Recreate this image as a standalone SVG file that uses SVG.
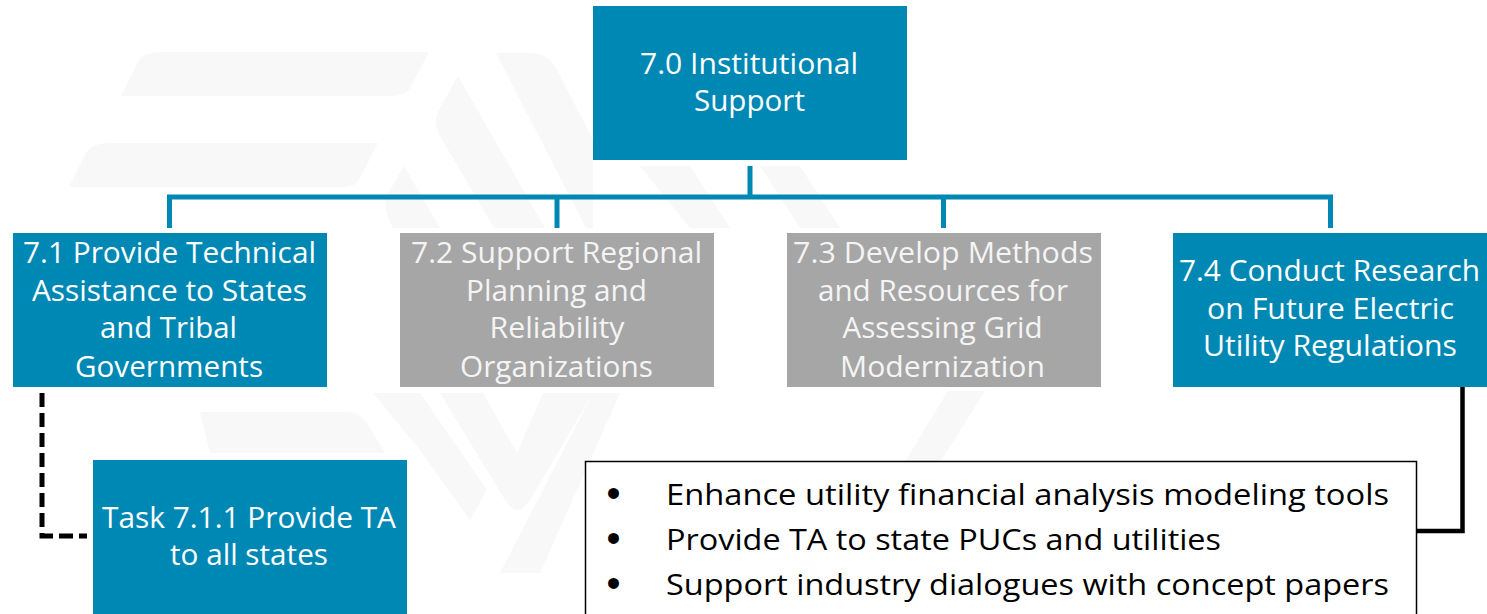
<svg xmlns="http://www.w3.org/2000/svg" width="1487" height="614" viewBox="0 0 1487 614">
<style>
.wm{fill:#f8f8f8}
.blue{fill:#0088b5}
.gray{fill:#a6a6a6}
.t{font-family:"Open Sans","Noto Sans","Liberation Sans",sans-serif;font-size:30px;fill:#ffffff;text-anchor:middle}
.tg{fill:#f4f4f4}
.b{font-family:"Open Sans","Noto Sans","Liberation Sans",sans-serif;font-size:30px;fill:#000000}
.bul{font-family:"Liberation Sans","DejaVu Sans",sans-serif;font-size:40px;fill:#000000;text-anchor:middle}
.conn{fill:none;stroke:#0088b5;stroke-width:5}
</style>
<rect width="1487" height="614" fill="#ffffff"/>
<g id="watermark">
<path class="wm" d="M160,52 L429,52 L410,88 Q404,96 392,96 L121,96 L138,62 Q144,52 160,52 Z"/>
<path class="wm" d="M125,143 L378,143 L359,180 Q355,187 343,187 L69,187 L86,153 Q92,143 110,143 Z"/>
<path class="wm" d="M458,76 L545,228 L494,228 L440,136 Q432,122 440,108 Z"/>
<path class="wm" d="M496,53 L530,53 Q548,53 556,68 L593,140 L593,228 L586,228 Z"/>
<path class="wm" d="M404,166 L440,228 L393,228 Q380,205 390,190 Z"/>
<path class="wm" d="M373,393 L420,393 L487,490 L470,520 L420,450 Z"/>
<path class="wm" d="M483,393 L517,453 L543,393 L593,393 L530,500 Q517,520 505,500 L440,393 Z"/>
<path class="wm" d="M593,393 L620,393 L540,573 L500,573 Z"/>
<path class="wm" d="M200,412 L345,412 Q360,412 368,425 L385,453 L210,453 Z"/>
<path class="wm" d="M948,391 L985,391 L935,470 L900,470 Z"/>
<path class="wm" d="M640,166 L690,166 L730,228 L690,228 Z"/>
<path class="wm" d="M760,166 L800,166 L840,228 L800,228 Z"/>
</g>
<g id="connectors">
<line class="conn" x1="750" y1="166" x2="750" y2="197"/>
<polyline class="conn" points="169.5,228 169.5,197 1330.5,197 1330.5,228"/>
<line class="conn" x1="557" y1="197" x2="557" y2="228"/>
<line class="conn" x1="943.5" y1="197" x2="943.5" y2="228"/>
<polyline points="42,393 42,536 87,536" fill="none" stroke="#000000" stroke-width="5" stroke-dasharray="14 6"/>
<polyline points="1462.5,387 1462.5,531 1417,531" fill="none" stroke="#000000" stroke-width="4.5"/>
</g>
<g id="node-7-0">
<rect class="blue" x="593" y="6" width="314" height="154"/>
<text class="t" x="749" y="73.5" textLength="218" lengthAdjust="spacingAndGlyphs">7.0 Institutional</text>
<text class="t" x="749.5" y="110.5" textLength="111" lengthAdjust="spacingAndGlyphs">Support</text>
</g>
<g id="node-7-1">
<rect class="blue" x="13" y="233" width="314" height="154"/>
<text class="t" x="169.5" y="263" textLength="293" lengthAdjust="spacingAndGlyphs">7.1 Provide Technical</text>
<text class="t" x="169.5" y="300.7" textLength="275" lengthAdjust="spacingAndGlyphs">Assistance to States</text>
<text class="t" x="168.5" y="338.4" textLength="137" lengthAdjust="spacingAndGlyphs">and Tribal</text>
<text class="t" x="169" y="376.5" textLength="188" lengthAdjust="spacingAndGlyphs">Governments</text>
</g>
<g id="node-7-2">
<rect x="398" y="231" width="318" height="158" fill="#ffffff"/>
<rect class="gray" x="400" y="233" width="314" height="154"/>
<text class="t tg" x="556.5" y="263" textLength="291" lengthAdjust="spacingAndGlyphs">7.2 Support Regional</text>
<text class="t tg" x="556.5" y="300.7" textLength="181" lengthAdjust="spacingAndGlyphs">Planning and</text>
<text class="t tg" x="557" y="338.4" textLength="135" lengthAdjust="spacingAndGlyphs">Reliability</text>
<text class="t tg" x="556.5" y="376.5" textLength="193" lengthAdjust="spacingAndGlyphs">Organizations</text>
</g>
<g id="node-7-3">
<rect x="785" y="231" width="318" height="158" fill="#ffffff"/>
<rect class="gray" x="787" y="233" width="314" height="154"/>
<text class="t tg" x="943" y="263" textLength="300" lengthAdjust="spacingAndGlyphs">7.3 Develop Methods</text>
<text class="t tg" x="943" y="300.7" textLength="250" lengthAdjust="spacingAndGlyphs">and Resources for</text>
<text class="t tg" x="942.5" y="338.4" textLength="200" lengthAdjust="spacingAndGlyphs">Assessing Grid</text>
<text class="t tg" x="942.5" y="376.5" textLength="205" lengthAdjust="spacingAndGlyphs">Modernization</text>
</g>
<g id="node-7-4">
<rect class="blue" x="1173" y="233" width="314" height="154"/>
<text class="t" x="1329.5" y="281" textLength="301" lengthAdjust="spacingAndGlyphs">7.4 Conduct Research</text>
<text class="t" x="1330.5" y="318.5" textLength="247" lengthAdjust="spacingAndGlyphs">on Future Electric</text>
<text class="t" x="1330" y="356.2" textLength="254" lengthAdjust="spacingAndGlyphs">Utility Regulations</text>
</g>
<g id="node-7-1-1">
<rect class="blue" x="93" y="460" width="314" height="160"/>
<text class="t" x="249" y="527.7" textLength="294" lengthAdjust="spacingAndGlyphs">Task 7.1.1 Provide TA</text>
<text class="t" x="249" y="565" textLength="158" lengthAdjust="spacingAndGlyphs">to all states</text>
</g>
<g id="node-7-4-details">
<rect x="585.5" y="461.5" width="831" height="170" fill="#ffffff" stroke="#000000" stroke-width="1.5"/>
<text class="bul" x="613.5" y="507">•</text>
<text class="b" x="666" y="505" textLength="723" lengthAdjust="spacingAndGlyphs">Enhance utility financial analysis modeling tools</text>
<text class="bul" x="613.5" y="552">•</text>
<text class="b" x="666" y="550" textLength="555" lengthAdjust="spacingAndGlyphs">Provide TA to state PUCs and utilities</text>
<text class="bul" x="613.5" y="597">•</text>
<text class="b" x="666" y="595" textLength="723" lengthAdjust="spacingAndGlyphs">Support industry dialogues with concept papers</text>
</g>
</svg>
